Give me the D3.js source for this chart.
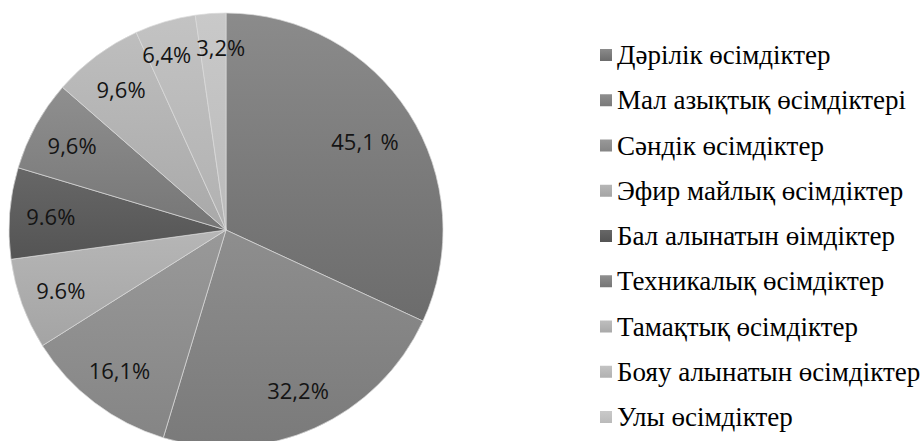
<!DOCTYPE html>
<html>
<head>
<meta charset="utf-8">
<script src="https://cdn.jsdelivr.net/npm/d3@7"></script>
<style>
    body { margin: 0; background: #fff; }
    svg { display: block; }
</style>
</head>
<body>
<svg id="chart" width="921" height="441"></svg>
<script>
// data
const categories = [
    "Дәрілік өсімдіктер",
    "Мал азықтық өсімдіктері",
    "Сәндік өсімдіктер",
    "Эфир майлық өсімдіктер",
    "Бал алынатын өімдіктер",
    "Техникалық өсімдіктер",
    "Тамақтық өсімдіктер",
    "Бояу алынатын өсімдіктер",
    "Улы өсімдіктер"
];
const values = [45.1, 32.2, 16.1, 9.6, 9.6, 9.6, 9.6, 6.4, 3.2];
const labels = ["45,1 %", "32,2%", "16,1%", "9.6%", "9.6%", "9,6%", "9,6%", "6,4%", "3,2%"];

// gradient colours per slice (top -> bottom)
const colorsTop = ["#8b8b8b", "#8e8e8e", "#999999", "#b6b6b6", "#676767", "#8f8f8f", "#bebebe", "#c3c3c3", "#c9c9c9"];
const colorsBottom = ["#6c6c6c", "#7a7a7a", "#858585", "#a4a4a4", "#545454", "#767676", "#a9a9a9", "#b1b1b1", "#bababa"];

const svg = d3.select("#chart");
const cx = 226, cy = 230, R = 217;

const defs = svg.append("defs");
categories.forEach((c, i) => {
    let g = defs.append("linearGradient")
        .attr("id", "grad" + i)
        .attr("x1", 0).attr("y1", 0)
        .attr("x2", 0).attr("y2", 1);
    g.append("stop").attr("offset", "0%").attr("stop-color", colorsTop[i]);
    g.append("stop").attr("offset", "100%").attr("stop-color", colorsBottom[i]);
});

const pie = d3.pie().sort(null).value(d => d)(values);
const arc = d3.arc().innerRadius(0).outerRadius(R);
// labels sit a bit further out on the thin slices
const labelR = d => (d.index === 0 ? 0.76 : (d.endAngle - d.startAngle) < 0.3 ? 0.845 : 0.81) * R;

const gPie = svg.append("g").attr("transform", "translate(" + cx + "," + cy + ")");

gPie.selectAll("path.slice")
    .data(pie)
    .enter()
    .append("path")
    .attr("class", "slice")
    .attr("d", arc)
    .attr("fill", (d, i) => "url(#grad" + i + ")")
    .attr("stroke", "#dadada")
    .attr("stroke-width", 0.7);

let lbls = gPie.selectAll("text.lbl")
    .data(pie)
    .enter()
    .append("text")
    .attr("class", "lbl")
    .attr("text-anchor", "middle")
    .attr("dominant-baseline", "central")
    .style("font-family", "'Open Sans'")
    .style("font-size", "22px")
    .attr("fill", "#141414")
    .text((d, i) => labels[i]);

// place at centroid, then push neighbours apart if they collide
let pos = pie.map(d => {
    let a = d3.arc().innerRadius(labelR(d)).outerRadius(labelR(d));
    return a.centroid(d);
});
let widths = lbls.nodes().map(n => n.getComputedTextLength());
for (let i = 1; i < pos.length; i++) {
    let dx = pos[i][0] - pos[i - 1][0];
    let dy = Math.abs(pos[i][1] - pos[i - 1][1]);
    let need = (widths[i] + widths[i - 1]) / 2 + 5;
    if (dy < 22 && Math.abs(dx) < need) {
        let push = (need - Math.abs(dx)) / 2;
        let s = dx >= 0 ? 1 : -1;
        pos[i][0] += s * push;
        pos[i - 1][0] -= s * push;
    }
}
lbls.attr("transform", (d, i) => "translate(" + pos[i] + ")");

// legend
const legend = svg.append("g").attr("transform", "translate(600,55)");
const rowH = 45.25;

let rows = legend.selectAll("g.row")
    .data(categories)
    .enter()
    .append("g")
    .attr("class", "row")
    .attr("transform", (d, i) => "translate(0," + i * rowH + ")");

rows.append("rect")
    .attr("x", 0)
    .attr("y", -6)
    .attr("width", 12)
    .attr("height", 12)
    .attr("fill", (d, i) => "url(#grad" + i + ")");

rows.append("text")
    .attr("x", 17)
    .attr("y", 0)
    .attr("dominant-baseline", "central")
    .style("font-family", "'Liberation Serif'")
    .style("font-size", "27px")
    .attr("fill", "#000")
    .text(d => d);
</script>
</body>
</html>
